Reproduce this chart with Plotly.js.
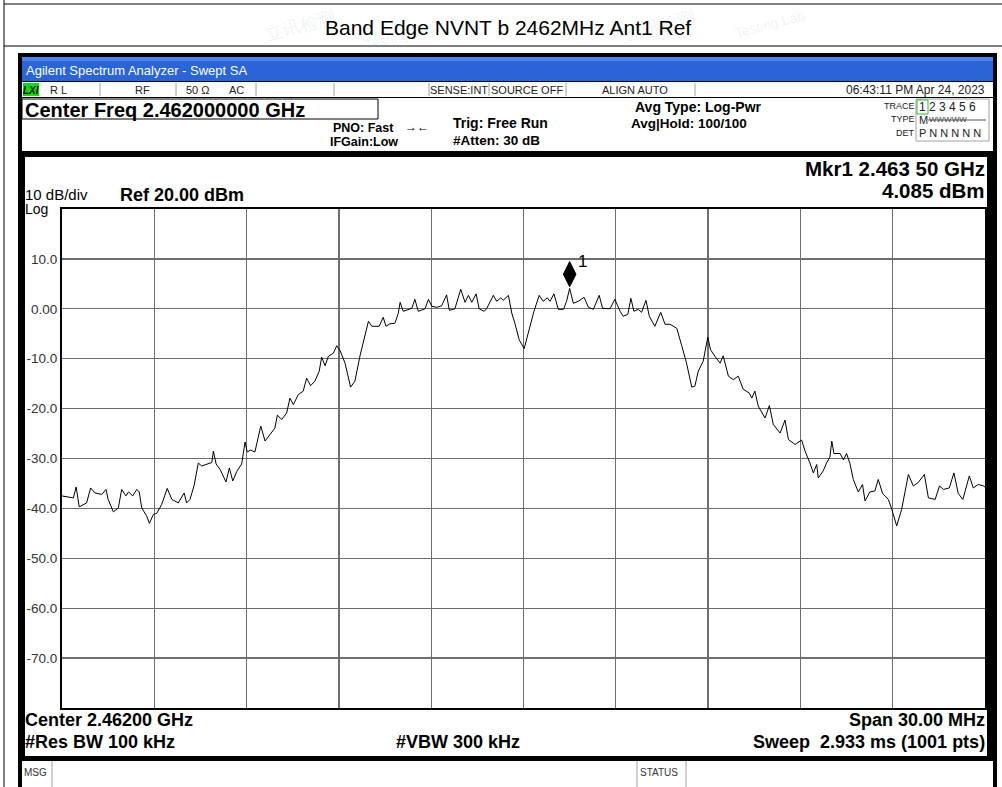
<!DOCTYPE html>
<html>
<head>
<meta charset="utf-8">
<script src="https://cdn.plot.ly/plotly-3.0.1.min.js"></script>
<style>
html,body{margin:0;padding:0;background:#fff;}
#chart{width:1002px;height:787px;}
</style>
</head>
<body>
<div id="chart"></div>
<script>
// ---- data ----
const freqMHz = [2447.00,2447.37,2447.46,2447.56,2447.80,2447.93,2448.07,2448.29,2448.43,2448.50,
2448.67,2448.83,2448.94,2449.08,2449.16,2449.30,2449.43,2449.51,2449.59,2449.75,
2449.84,2449.97,2450.08,2450.24,2450.42,2450.57,2450.78,2450.97,2451.05,2451.16,
2451.29,2451.43,2451.54,2451.70,2451.87,2451.92,2452.01,2452.14,2452.33,2452.44,
2452.55,2452.68,2452.84,2452.95,2453.02,2453.13,2453.27,2453.46,2453.60,2453.76,
2453.92,2454.00,2454.14,2454.30,2454.41,2454.52,2454.68,2454.84,2454.95,2455.08,
2455.22,2455.36,2455.44,2455.55,2455.66,2455.82,2455.93,2456.04,2456.20,2456.38,
2456.52,2456.69,2456.85,2456.96,2457.07,2457.31,2457.44,2457.53,2457.66,2457.82,
2457.93,2457.99,2458.09,2458.26,2458.37,2458.47,2458.58,2458.80,2458.91,2459.02,
2459.18,2459.34,2459.50,2459.59,2459.77,2459.96,2460.10,2460.21,2460.32,2460.46,
2460.56,2460.72,2460.80,2461.02,2461.13,2461.26,2461.34,2461.51,2461.62,2461.72,
2461.86,2462.02,2462.16,2462.34,2462.51,2462.64,2462.77,2462.86,2462.99,2463.13,
2463.30,2463.40,2463.50,2463.62,2463.78,2463.97,2464.11,2464.27,2464.46,2464.57,
2464.81,2464.97,2465.14,2465.24,2465.39,2465.49,2465.59,2465.73,2465.84,2465.98,
2466.09,2466.27,2466.46,2466.60,2466.76,2466.98,2467.14,2467.30,2467.47,2467.57,
2467.68,2467.84,2467.99,2468.08,2468.22,2468.39,2468.49,2468.66,2468.82,2468.98,
2469.14,2469.34,2469.42,2469.52,2469.63,2469.85,2469.99,2470.12,2470.34,2470.50,
2470.61,2470.83,2471.04,2471.15,2471.31,2471.42,2471.53,2471.58,2471.74,2471.85,
2471.96,2472.02,2472.09,2472.29,2472.40,2472.50,2472.61,2472.72,2472.88,2473.02,
2473.10,2473.26,2473.42,2473.53,2473.67,2473.86,2473.97,2474.13,2474.29,2474.40,
2474.51,2474.67,2474.83,2475.03,2475.16,2475.38,2475.52,2475.65,2475.84,2475.99,
2476.13,2476.28,2476.49,2476.62,2476.78,2476.95,2477.00];
const levelDbm = [-37.5,-37.9,-35.7,-39.7,-38.9,-35.9,-36.9,-37.2,-36.2,-38.2,
-40.7,-39.9,-36.2,-37.5,-36.7,-37.5,-36.2,-36.7,-39.9,-41.5,
-43.0,-41.2,-41.0,-39.2,-36.0,-38.2,-38.9,-36.9,-38.9,-38.2,
-35.5,-30.9,-31.5,-31.1,-30.8,-28.5,-31.1,-32.2,-34.7,-31.9,
-34.5,-32.6,-31.1,-26.7,-28.7,-28.3,-28.7,-23.5,-26.5,-25.2,
-23.9,-21.3,-22.2,-20.9,-17.9,-19.2,-17.2,-16.5,-13.9,-15.4,
-14.5,-12.5,-9.7,-11.4,-9.5,-8.9,-7.4,-8.4,-10.9,-15.7,
-14.5,-9.3,-5.5,-2.5,-3.5,-3.5,-1.7,-3.5,-3.0,-2.9,
-0.9,1.3,-0.5,-0.1,0.1,1.9,-0.5,0.0,1.9,0.5,
0.3,0.6,2.8,-0.3,0.0,3.9,1.3,2.7,1.3,3.0,
0.0,-0.5,0.0,2.7,1.5,2.2,1.7,2.7,-0.9,-2.9,
-6.2,-8.0,-4.6,-0.5,2.7,1.5,2.2,1.5,3.0,-0.1,
-0.1,1.5,4.085,1.1,1.5,2.3,0.3,-0.1,2.7,0.1,
0.0,1.9,-0.5,-1.5,-1.1,2.1,-0.5,-0.1,-0.7,1.7,
-1.5,-3.5,-0.7,-3.1,-3.1,-3.9,-7.3,-10.9,-15.7,-15.5,
-12.5,-10.5,-5.7,-8.2,-9.5,-10.9,-9.4,-13.5,-14.2,-13.5,
-16.1,-16.9,-17.9,-16.5,-19.5,-21.9,-19.4,-23.2,-24.9,-22.3,
-26.2,-27.2,-26.3,-28.5,-30.9,-32.9,-31.2,-33.9,-32.5,-30.9,
-29.7,-26.5,-29.0,-29.0,-30.3,-29.0,-31.0,-34.2,-36.7,-35.2,
-38.5,-36.7,-36.5,-34.2,-37.0,-38.2,-40.2,-43.5,-40.2,-36.5,
-33.2,-35.5,-34.8,-33.2,-37.9,-38.2,-35.5,-36.2,-35.9,-32.9,
-37.0,-38.2,-33.5,-35.9,-35.2,-35.5,-35.7];
const markerFreqMHz = [2463.50];
const markerLevelDbm = [4.085];
const markerLabels = ['1'];
const yTickVals = [10, 0, -10, -20, -30, -40, -50, -60, -70];
const yTickText = ['10.0', '0.00', '-10.0', '-20.0', '-30.0', '-40.0', '-50.0', '-60.0', '-70.0'];
const xTickVals = [2447, 2450, 2453, 2456, 2459, 2462, 2465, 2468, 2471, 2474, 2477];

// ---- layout helpers (pixel -> paper) ----
const FONT = 'Liberation Sans, Arial, sans-serif';
const PL = 62, PR = 985, PT = 209, PB = 708;
const PW = PR - PL, PH = PB - PT;
const P = x => (x - PL) / PW;
const Q = y => (PB - y) / PH;
function R(x0, y0, x1, y1, fill, lc, lw, layer) {
  return {type:'rect', xref:'paper', yref:'paper', x0:P(x0), x1:P(x1), y0:Q(y1), y1:Q(y0),
    fillcolor: fill || 'rgba(0,0,0,0)', line:{color: lc || 'rgba(0,0,0,0)', width: lw || 0}, layer: layer || 'below'};
}
function Ln(x0, y0, x1, y1, c, w, layer) {
  return {type:'line', xref:'paper', yref:'paper', x0:P(x0), x1:P(x1), y0:Q(y0), y1:Q(y1),
    line:{color:c, width:w}, layer: layer || 'below'};
}
function T(text, x, y, size, anchor, color, extra) {
  return Object.assign({text:text, x:P(x), y:Q(y), xref:'paper', yref:'paper', showarrow:false,
    xanchor: anchor || 'left', yanchor:'middle', borderpad:0, borderwidth:0,
    font:{family:FONT, size:size, color: color || '#000'}}, extra || {});
}

const shapes = [
  // outer page lines
  Ln(4, 0, 4, 787, '#000', 1),
  Ln(4, 4, 1002, 4, '#000', 1),
  Ln(4, 46, 1002, 46, '#000', 1),
  // analyzer window frame
  R(18, 53, 997, 787, '#000'),
  R(22, 57, 993, 81, '#2a64d9'),
  R(22, 57, 993, 61, '#4a86ee'),
  R(22, 82, 993, 97, '#ffffff'),
  R(22, 98, 993, 151, '#ffffff'),
  R(25, 157, 987, 756, '#ffffff'),
  R(22, 761, 993, 787, '#ffffff'),
  // LXI box
  R(23, 83, 39, 96, '#00e000'),
  // header frequency box
  R(22, 99, 378, 119, null, '#000', 1),
  // trace table box
  R(916, 99, 989, 141, null, '#a0a0a0', 1),
  R(917, 100, 928, 114, null, '#2fb82f', 1),
  // MSG row separators
  Ln(52, 761, 52, 787, '#a0a0a0', 1),
  Ln(637, 761, 637, 787, '#a0a0a0', 1),
  Ln(686, 761, 686, 787, '#a0a0a0', 1)
];
[100, 176, 256, 334, 429, 489, 566, 695].forEach(x => shapes.push(Ln(x, 83, x, 96, '#a0a0a0', 1)));
// strike through the TYPE row marks
shapes.push(Ln(928, 120, 986, 120, '#555', 1, 'above'));

const wm = 'rgba(150,190,160,0.16)';
const annotations = [
  // faint watermark
  T('立讯检测', 300, 26, 18, 'center', wm, {textangle:-15}),
  T('Testing Lab', 400, 36, 14, 'center', wm, {textangle:-15}),
  T('立讯检测', 660, 26, 18, 'center', wm, {textangle:-15}),
  T('Testing Lab', 770, 24, 14, 'center', wm, {textangle:-15}),
  // page title
  T('Band Edge NVNT b 2462MHz Ant1 Ref', 507.5, 27, 21, 'center', '#000'),
  // window title bar
  T('Agilent Spectrum Analyzer - Swept SA', 26, 70, 13, 'left', '#ffffff'),
  // status row
  T('<b><i>LXI</i></b>', 31, 90, 10, 'center', '#000'),
  T('R L', 50, 90, 11, 'left', '#222'),
  T('RF', 142, 90, 11, 'center', '#222'),
  T('50 Ω', 198, 90, 11, 'center', '#222'),
  T('AC', 236, 90, 11, 'center', '#222'),
  T('SENSE:INT', 459, 90, 11, 'center', '#222'),
  T('SOURCE OFF', 527, 90, 11, 'center', '#222'),
  T('ALIGN AUTO', 635, 90, 11, 'center', '#222'),
  T('06:43:11 PM Apr 24, 2023', 985, 90, 12, 'right', '#222'),
  // header
  T('<b>Center Freq 2.462000000 GHz</b>', 25, 110, 20, 'left'),
  T('<b>PNO: Fast</b>', 333, 128, 12.5, 'left'),
  T('<b>IFGain:Low</b>', 330, 142, 12.5, 'left'),
  T('<b>→←</b>', 417, 127, 12, 'center'),
  T('<b>Trig: Free Run</b>', 453, 123, 14, 'left'),
  T('<b>#Atten: 30 dB</b>', 453, 140, 13.5, 'left'),
  T('<b>Avg Type: Log-Pwr</b>', 635, 107, 14, 'left'),
  T('<b>Avg|Hold: 100/100</b>', 631, 123, 13.5, 'left'),
  T('TRACE', 915, 106, 9, 'right', '#222'),
  T('1 2 3 4 5 6', 919, 107, 12, 'left', '#222'),
  T('TYPE', 915, 119, 9, 'right', '#222'),
  T('M', 919, 120, 11, 'left', '#222'),
  T('WWWWW', 929, 120, 8, 'left', '#444'),
  T('DET', 915, 133, 9, 'right', '#222'),
  T('P N N N N N', 919, 133, 11, 'left', '#222'),
  // panel texts
  T('<b>Mkr1 2.463 50 GHz</b>', 985, 168, 20.5, 'right'),
  T('<b>4.085 dBm</b>', 985, 190, 20.5, 'right'),
  T('10 dB/div', 25, 194, 15, 'left'),
  T('Log', 25, 209, 14, 'left'),
  T('<b>Ref 20.00 dBm</b>', 120, 195, 18, 'left'),
  T('<b>Center 2.46200 GHz</b>', 25, 720, 18, 'left'),
  T('<b>Span 30.00 MHz</b>', 985, 720, 18, 'right'),
  T('<b>#Res BW 100 kHz</b>', 25, 742, 18, 'left'),
  T('<b>#VBW 300 kHz</b>', 458, 742, 18, 'center'),
  T('<b>Sweep  2.933 ms (1001 pts)</b>', 985, 742, 18, 'right'),
  // message row
  T('MSG', 24, 772, 10, 'left', '#333'),
  T('STATUS', 640, 772, 10, 'left', '#333')
];
// marker number label next to the diamond, placed from the marker data
markerFreqMHz.forEach((f, i) => {
  annotations.push({text: markerLabels[i], x: f, y: markerLevelDbm[i] + 2.85, xref:'x', yref:'y',
    showarrow:false, xanchor:'left', yanchor:'bottom', xshift:8, yshift:3, borderpad:0, borderwidth:0,
    font:{family:FONT, size:17, color:'#000'}});
});

const traces = [
  {x: freqMHz, y: levelDbm, type:'scatter', mode:'lines', line:{color:'#000', width:1}, hoverinfo:'skip'},
  {x: markerFreqMHz, y: markerLevelDbm.map(v => v + 2.85), type:'scatter', mode:'markers',
   marker:{symbol:'diamond-tall', size:18, color:'#000', line:{color:'#000', width:1}}, hoverinfo:'skip'}
];

const layout = {
  width: 1002, height: 787,
  margin: {l: PL, r: 1002 - PR, t: PT, b: 787 - PB, pad: 0},
  paper_bgcolor: '#ffffff', plot_bgcolor: 'rgba(0,0,0,0)',
  showlegend: false,
  font: {family: FONT},
  xaxis: {range: [2447, 2477], tickvals: xTickVals, showticklabels: false, ticks: '',
    showgrid: true, gridcolor: '#6e6e6e', gridwidth: 1.3, zeroline: false,
    showline: true, mirror: true, linecolor: '#000', linewidth: 2, fixedrange: true},
  yaxis: {range: [-80, 20], tickvals: yTickVals, ticktext: yTickText, ticks: '',
    tickfont: {family: FONT, size: 13.5, color: '#333'},
    showgrid: true, gridcolor: '#6e6e6e', gridwidth: 1.3, zeroline: false,
    showline: true, mirror: true, linecolor: '#000', linewidth: 2, fixedrange: true},
  shapes: shapes,
  annotations: annotations
};

Plotly.newPlot('chart', traces, layout, {staticPlot: true, displayModeBar: false});
</script>
</body>
</html>
